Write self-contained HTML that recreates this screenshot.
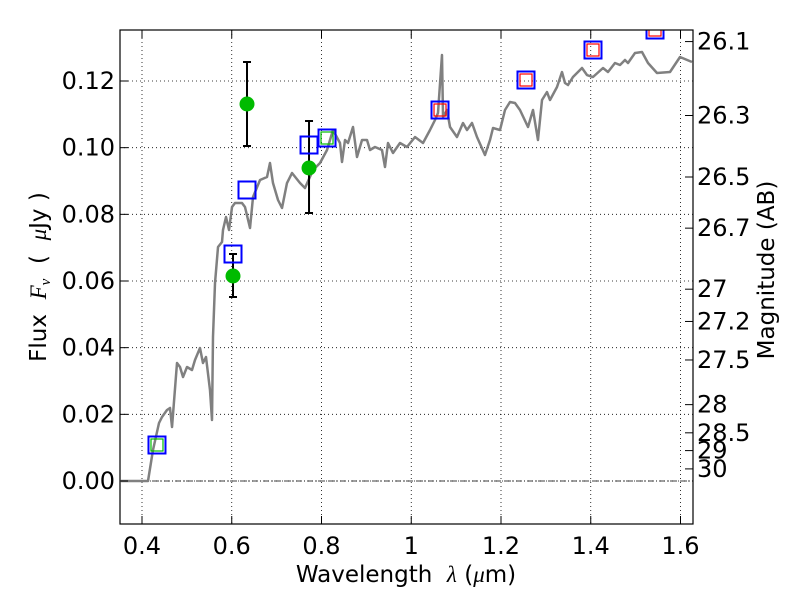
<!DOCTYPE html>
<html><head><meta charset="utf-8"><style>
body{margin:0;background:#fff;}
svg text{font-family:"DejaVu Sans","Liberation Sans",sans-serif;fill:#000;white-space:pre;}
</style></head><body>
<svg id="chart" width="800" height="600" viewBox="0 0 800 600" xmlns="http://www.w3.org/2000/svg">
<rect width="800" height="600" fill="#fff"/>
<defs><clipPath id="plotclip"><rect x="120" y="30" width="573" height="494"/></clipPath></defs>
<g id="grid"></g>
<g id="marks" clip-path="url(#plotclip)"></g>
<rect x="120" y="30" width="573" height="494" fill="none" stroke="#000" stroke-width="1.2"/>
<g id="axes"></g>
<text x="406" y="582" font-size="23" text-anchor="middle">Wavelength&#160;&#160;<tspan font-style="italic" font-family="Liberation Serif">λ</tspan>&#160;(<tspan font-style="italic" font-family="Liberation Serif">μ</tspan>m)</text>
<text transform="translate(46,277) rotate(-90)" font-size="23" text-anchor="middle">Flux&#160;&#160;<tspan font-style="italic" font-family="Liberation Serif">F</tspan><tspan font-style="italic" font-size="15" dy="4" font-family="Liberation Serif">ν</tspan><tspan dy="-4">&#160;&#160;(&#160;&#160;</tspan><tspan font-style="italic" font-family="Liberation Serif">μ</tspan>Jy&#160;)</text>
<text transform="translate(774,270) rotate(-90)" font-size="23" text-anchor="middle">Magnitude (AB)</text>
</svg>
<script>
const xTicks=[0.4,0.6,0.8,1,1.2,1.4,1.6];
const yTicks=[0,0.02,0.04,0.06,0.08,0.10,0.12];
const yTickLabels=["0.00","0.02","0.04","0.06","0.08","0.10","0.12"];
const magTicks=[26.1,26.3,26.5,26.7,27,27.2,27.5,28,28.5,29,30];
const magLabels=["26.1","26.3","26.5","26.7","27","27.2","27.5","28","28.5","29","30"];
const specWave=[0.3532,0.4134,0.4245,0.4379,0.4446,0.4557,0.4624,0.4669,0.4780,0.4847,0.4914,0.5003,0.5114,0.5181,0.5292,0.5359,0.5426,0.5515,0.5560,0.5582,0.5627,0.5694,0.5783,0.5805,0.5872,0.5939,0.6006,0.6072,0.6228,0.6295,0.6407,0.6474,0.6630,0.6786,0.6852,0.6919,0.7031,0.7120,0.7231,0.7343,0.7521,0.7632,0.7811,0.7967,0.8123,0.8256,0.8412,0.8457,0.8524,0.8591,0.8702,0.8791,0.8903,0.9014,0.9081,0.9192,0.9348,0.9415,0.9482,0.9593,0.9749,0.9905,1.0084,1.0262,1.0418,1.0529,1.0596,1.0685,1.0708,1.0797,1.0864,1.1019,1.1153,1.1242,1.1354,1.1465,1.1643,1.1755,1.1822,1.1978,1.2089,1.2200,1.2312,1.2423,1.2602,1.2713,1.2824,1.2914,1.3025,1.3092,1.3248,1.3359,1.3426,1.3493,1.3604,1.3805,1.3916,1.4050,1.4273,1.4384,1.4540,1.4652,1.4763,1.4830,1.4986,1.5142,1.5276,1.5476,1.5766,1.5989,1.6256];
const specFlux=[0,0,0.0093,0.0174,0.0192,0.0213,0.0219,0.0162,0.0354,0.0342,0.0312,0.0342,0.0333,0.0363,0.0399,0.0354,0.0372,0.0273,0.0183,0.0432,0.0594,0.0702,0.0717,0.0753,0.0792,0.0753,0.0822,0.0834,0.0834,0.0822,0.0759,0.0852,0.0903,0.0912,0.0954,0.0894,0.0843,0.0819,0.0894,0.0924,0.0894,0.0879,0.0933,0.0954,0.0993,0.1053,0.1014,0.0957,0.1023,0.1014,0.1062,0.0972,0.1023,0.1023,0.0993,0.1002,0.0993,0.0942,0.1014,0.0984,0.1014,0.1002,0.1032,0.1014,0.1053,0.1083,0.1104,0.1278,0.1092,0.1113,0.1062,0.1032,0.1074,0.1053,0.1074,0.1032,0.0978,0.1023,0.1059,0.1053,0.1113,0.1137,0.1134,0.1113,0.1062,0.1113,0.1023,0.1143,0.1167,0.1143,0.1182,0.1227,0.1194,0.1188,0.1212,0.1239,0.1218,0.1212,0.1239,0.1227,0.1254,0.1248,0.1263,0.1254,0.1284,0.1287,0.1254,0.1224,0.1227,0.1272,0.1257];
const modelWave=[0.4334,0.6028,0.6340,0.7722,0.8123,1.0641,1.2557,1.4050,1.5432];
const modelFlux=[0.0108,0.0681,0.0873,0.1008,0.1029,0.1113,0.1203,0.1293,0.1353];
const redWave=[1.0641,1.2557,1.4050,1.5432];
const redFlux=[0.1113,0.1203,0.1293,0.1353];
const greenSqWave=[0.4334,0.8123];
const greenSqFlux=[0.0108,0.1029];
const obsWave=[0.6028,0.6340,0.7722];
const obsFlux=[0.0615,0.1131,0.0939];
const obsLow=[0.0552,0.1005,0.0804];
const obsHigh=[0.0681,0.1257,0.1080];

const X=v=>142+(v-0.4)*448.75;
const Y=f=>481-f*3333.3;
const M=m=>Y(Math.pow(10,-0.4*(m-23.9)));
const NS="http://www.w3.org/2000/svg";
function mk(parent,tag,attrs){const e=document.createElementNS(NS,tag);for(const k in attrs)e.setAttribute(k,attrs[k]);document.getElementById(parent).appendChild(e);return e;}

xTicks.forEach(t=>{
  const g=mk('grid','line',{x1:X(t),x2:X(t),y1:30,y2:524,stroke:'#000','stroke-width':0.8,'stroke-dasharray':'1,3'});
  
  
  const tk=mk('axes','line',{x1:X(t),x2:X(t),y1:524,y2:516,stroke:'#000'});
  
  
  const tt=mk('axes','line',{x1:X(t),x2:X(t),y1:30,y2:38,stroke:'#000'});
  
  
  const tx=mk('axes','text',{x:X(t),y:554,'font-size':24,'text-anchor':'middle'});
  tx.textContent=String(t);
  
  
});
yTicks.forEach((t,i)=>{
  const g=mk('grid','line',{x1:120,x2:693,y1:Y(t),y2:Y(t),stroke:'#000','stroke-width':0.8,'stroke-dasharray':'1,3'});
  
  
  const tk=mk('axes','line',{x1:120,x2:128,y1:Y(t),y2:Y(t),stroke:'#000'});
  
  
  const tx=mk('axes','text',{x:115,y:Y(t)+8,'font-size':24,'text-anchor':'end'});
  tx.textContent=yTickLabels[i];
  
  
});
magTicks.forEach((m,i)=>{
  const tk=mk('axes','line',{x1:685,x2:693,y1:M(m),y2:M(m),stroke:'#000'});
  
  
  const tx=mk('axes','text',{x:697,y:M(m)+8,'font-size':24});
  tx.textContent=magLabels[i];
  
  
});
const zl=mk('marks','line',{x1:120,x2:693,y1:Y(0),y2:Y(0),stroke:'#000','stroke-width':0.8,'stroke-dasharray':'6,2,1,2'});


const sp=mk('marks','polyline',{points:specWave.map((w,i)=>X(w)+','+Y(specFlux[i])).join(' '),fill:'none',stroke:'#808080','stroke-width':2.5,'stroke-linejoin':'round'});


obsWave.forEach((w,i)=>{
  const eb=mk('marks','path',{d:`M${X(w)},${Y(obsLow[i])}V${Y(obsHigh[i])}M${X(w)-4},${Y(obsLow[i])}h8M${X(w)-4},${Y(obsHigh[i])}h8`,stroke:'#000','stroke-width':2,fill:'none'});
  
  
});
modelWave.forEach((w,i)=>{
  const r=mk('marks','rect',{x:X(w)-8.5,y:Y(modelFlux[i])-8.5,width:17,height:17,fill:'none',stroke:'#0000ff','stroke-width':2});
  
  
});
redWave.forEach((w,i)=>{
  const r=mk('marks','rect',{x:X(w)-6,y:Y(redFlux[i])-6,width:12,height:12,fill:'none',stroke:'#ff0000','stroke-width':1.2});
  
  
});
greenSqWave.forEach((w,i)=>{
  const r=mk('marks','rect',{x:X(w)-6,y:Y(greenSqFlux[i])-6,width:12,height:12,fill:'none',stroke:'#00bb00','stroke-width':1.2});
  
  
});
obsWave.forEach((w,i)=>{
  const c=mk('marks','circle',{cx:X(w),cy:Y(obsFlux[i]),r:7.5,fill:'#00bb00'});
  
  
});
</script>
</body></html>
